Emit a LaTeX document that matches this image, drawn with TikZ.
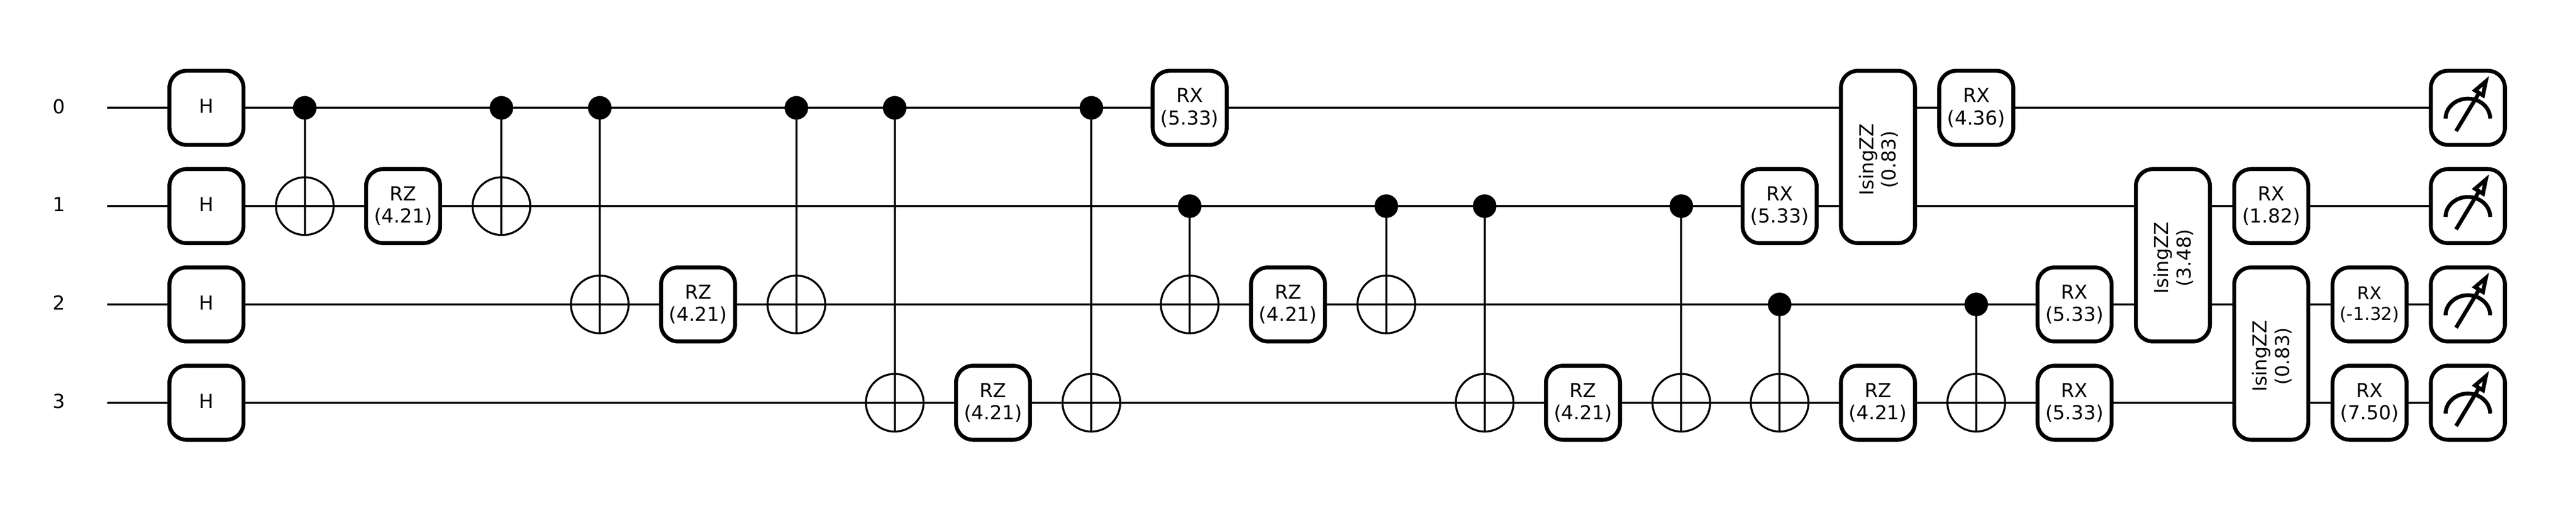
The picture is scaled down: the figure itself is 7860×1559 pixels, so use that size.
\documentclass[tikz,border=0pt]{standalone}
\usepackage{fontspec}
\setmainfont{DejaVu Sans}
\usetikzlibrary{backgrounds}
\tikzset{
  gatebase/.style={draw=black,fill=white,line width=1.2pt,rounded corners=5.2pt,inner sep=0pt,outer sep=0pt,align=center,font=\fontsize{5.9}{6.8}\selectfont},
  gate/.style={gatebase,minimum width=22.6pt,minimum height=22.6pt},
  hgate/.style={gate,text depth=1pt},
  smallgate/.style={gate,font=\fontsize{5.4}{6.3}\selectfont},
  zzgate/.style={gatebase,minimum width=22.6pt,minimum height=52.6pt},
  zzlabel/.style={rotate=90,inner sep=0pt,align=center,font=\fontsize{5.85}{6.8}\selectfont},
  meterbox/.style={gate},
  wirelabel/.style={inner sep=0pt,font=\fontsize{5.9}{6.8}\selectfont,text depth=1pt},
  wireline/.style={line width=0.6pt},
  stem/.style={line width=0.6pt},
  ctrl/.style={circle,fill=black,draw=none,minimum size=7.2pt,inner sep=0pt,outer sep=0pt},
  target/.style={circle,draw=black,line width=0.6pt,fill=none,minimum size=17.6pt,inner sep=0pt,outer sep=0pt},
  meterpen/.style={line width=1.2pt}
}
\begin{document}
\begin{tikzpicture}[x=0.1pt,y=-0.1pt]
\useasboundingbox (0,0) rectangle (7860,1559);
\def\wA{329}\def\wB{629}\def\wC{929}\def\wD{1229}
% wire labels and free wire ends
\foreach \n/\y in {0/\wA,1/\wB,2/\wC,3/\wD}{
  \node[wirelabel] (lab\n) at (180,\y) {\n};
  \coordinate (start\n) at (327,\y);
  \node[hgate] (h\n) at (630,\y) {H};
  \node[meterbox] (m\n) at (7530,\y) {};
}
% single-wire gates
\foreach \name/\x/\y/\g/\v in {
  rza/1230/\wB/RZ/4.21, rzb/2130/\wC/RZ/4.21, rzc/3030/\wD/RZ/4.21,
  rxa/3630/\wA/RX/5.33, rzd/3930/\wC/RZ/4.21, rze/4830/\wD/RZ/4.21,
  rxb/5430/\wB/RX/5.33, rzf/5730/\wD/RZ/4.21, rxc/6030/\wA/RX/4.36,
  rxd/6330/\wC/RX/5.33, rxe/6330/\wD/RX/5.33, rxf/6930/\wB/RX/1.82,
  rxh/7230/\wD/RX/7.50}{
  \node[gate] (\name) at (\x,\y) {\g\\(\v)};
}
\node[smallgate] (rxg) at (7230,\wC) {RX\\(-1.32)};
% two-wire gates
\foreach \name/\x/\y/\v in {zza/5730/479/0.83, zzb/6630/779/3.48, zzc/6930/1079/0.83}{
  \node[zzgate] (\name) at (\x,\y) {};
  \node[zzlabel] (\name text) at ([shift={(2,8)}]\name.center) {IsingZZ\\(\v)};
}
% CNOTs
\foreach \name/\x/\c/\t in {
  a/930/\wA/\wB, b/1530/\wA/\wB, c/1830/\wA/\wC, d/2430/\wA/\wC,
  e/2730/\wA/\wD, f/3330/\wA/\wD, g/3630/\wB/\wC, h/4230/\wB/\wC,
  i/4530/\wB/\wD, j/5130/\wB/\wD, k/5430/\wC/\wD, l/6030/\wC/\wD}{
  \node[ctrl] (c\name) at (\x,\c) {};
  \node[target] (t\name) at (\x,\t) {};
  \draw[stem] (c\name.center) -- (t\name.south);
}
% wires behind everything
\begin{pgfonlayer}{background}
\foreach \n in {0,1,2,3}{
  \draw[wireline] (start\n) -- (m\n.west);
}
\end{pgfonlayer}
% meter glyphs
\foreach \n in {0,1,2,3}{
  \begin{scope}[shift={(m\n.center)}]
    \draw[meterpen] (-68,33) arc[start angle=180,end angle=360,x radius=68,y radius=61];
    \draw[meterpen] (-36,71) -- (34,-45);
    \draw[meterpen,line join=miter] (55,-81) -- (22,-53) -- (46,-38) -- cycle;
  \end{scope}
}
\end{tikzpicture}
\end{document}
